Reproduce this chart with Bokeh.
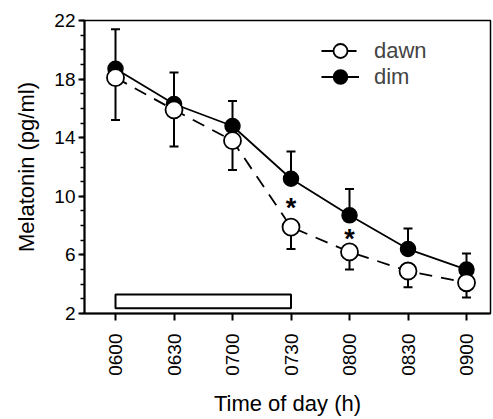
import math
from bokeh.plotting import figure
from bokeh.models import (ColumnDataSource, Range1d, FixedTicker, Whisker, TeeHead,
                          Legend, LegendItem)
from bokeh.core.properties import value
from bokeh.embed import file_html
from bokeh.resources import INLINE

# ---- data ----
times = ["0600", "0630", "0700", "0730", "0800", "0830", "0900"]
dawn_mean = [18.1, 15.9, 13.8, 7.9, 6.2, 4.9, 4.1]
dawn_sem = [2.9, 2.5, 2.0, 1.5, 1.2, 1.1, 1.0]
dim_mean = [18.7, 16.3, 14.8, 11.2, 8.7, 6.4, 5.0]
dim_sem = [2.7, 2.15, 1.7, 1.85, 1.8, 1.4, 1.1]
sig_times = ["0730", "0800"]
sig_y = [9.6, 7.5]
light_start, light_end = "0600", "0730"
light_bottom, light_top = 2.35, 3.3
y_ticks = [2, 6, 10, 14, 18, 22]

FONT = "Liberation Sans"
xi = {t: i for i, t in enumerate(times)}
x = [xi[t] for t in times]

dim_src = ColumnDataSource(dict(x=x, y=dim_mean,
                                lo=dim_mean,
                                hi=[m + e for m, e in zip(dim_mean, dim_sem)]))
dawn_src = ColumnDataSource(dict(x=x, y=dawn_mean,
                                 lo=[m - e for m, e in zip(dawn_mean, dawn_sem)],
                                 hi=dawn_mean))

p = figure(width=492, height=419, output_backend="svg", toolbar_location=None,
           x_range=Range1d(-0.53, 6.41), y_range=Range1d(2, 22),
           min_border_left=84, min_border_right=2, min_border_top=20,
           min_border_bottom=106)
p.title.visible = False
p.grid.visible = False
p.outline_line_color = "black"
p.outline_line_width = 1.5
p.background_fill_color = "white"
p.border_fill_color = "white"

# light period bar
p.quad(left=[xi[light_start]], right=[xi[light_end]], bottom=[light_bottom], top=[light_top],
       fill_color="white", line_color="black", line_width=2)

# error bars
p.add_layout(Whisker(source=dim_src, base="x", lower="lo", upper="hi", dimension="height",
                     line_color="black", line_width=2, level="underlay",
                     upper_head=TeeHead(size=9, line_width=2, line_color="black"),
                     lower_head=None))
p.add_layout(Whisker(source=dawn_src, base="x", lower="lo", upper="hi", dimension="height",
                     line_color="black", line_width=2, level="underlay",
                     lower_head=TeeHead(size=9, line_width=2, line_color="black"),
                     upper_head=None))

dim_line = p.line("x", "y", source=dim_src, line_color="black", line_width=1.8)
dawn_line = p.line("x", "y", source=dawn_src, line_color="black", line_width=1.8,
                   line_dash="13 9")
dim_pts = p.scatter("x", "y", source=dim_src, size=15, fill_color="black",
                    line_color="black", line_width=1.5)
dawn_pts = p.scatter("x", "y", source=dawn_src, size=17, fill_color="white",
                     line_color="black", line_width=1.8)

# significance markers
p.text(x=[xi[t] for t in sig_times], y=sig_y, text=["*"] * len(sig_times),
       text_align="center", text_baseline="middle", text_font=value(FONT),
       text_font_size="27px", text_font_style="bold", y_offset=6)


def make_legend(label, renderers, loc):
    return Legend(items=[LegendItem(label=label, renderers=renderers)],
                  location=loc, padding=0, margin=0, spacing=0,
                  glyph_width=38, glyph_height=35, label_standoff=15,
                  label_text_font=FONT, label_text_font_size="22px",
                  label_text_baseline="middle",
                  border_line_color=None, background_fill_alpha=0)


p.add_layout(make_legend("dawn", [dawn_line, dawn_pts], (237, 245)), "center")
p.add_layout(make_legend("dim", [dim_line, dim_pts], (237, 219)), "center")

# axes
p.xaxis.ticker = FixedTicker(ticks=x)
p.xaxis.major_label_overrides = {i: t for i, t in enumerate(times)}
p.xaxis.major_label_orientation = math.pi / 2
p.xaxis.major_tick_in = 0
p.xaxis.major_tick_out = 7
p.xaxis.minor_tick_out = 0
p.xaxis.minor_tick_in = 0
p.xaxis.axis_label = "Time of day (h)"

p.yaxis.ticker = FixedTicker(ticks=y_ticks, minor_ticks=list(range(2, 23)))
p.yaxis.major_tick_in = 0
p.yaxis.major_tick_out = 6
p.yaxis.minor_tick_in = 0
p.yaxis.minor_tick_out = 4
p.yaxis.axis_label = "Melatonin (pg/ml)"

for ax in (p.xaxis, p.yaxis):
    ax.axis_line_color = "black"
    ax.axis_line_width = 2
    ax.major_tick_line_width = 2
    ax.minor_tick_line_width = 1.5
    ax.major_label_text_font = FONT
    ax.major_label_text_font_size = "19px"
    ax.major_label_text_color = "black"
    ax.axis_label_text_font = FONT
    ax.axis_label_text_font_size = "22px"
    ax.axis_label_text_font_style = "normal"
    ax.axis_label_text_color = "black"

p.xaxis.major_label_standoff = 13
p.xaxis.axis_label_standoff = 12
p.yaxis.major_label_standoff = 3
p.yaxis.axis_label_standoff = 12

open("out.html", "w").write(file_html(p, INLINE))
